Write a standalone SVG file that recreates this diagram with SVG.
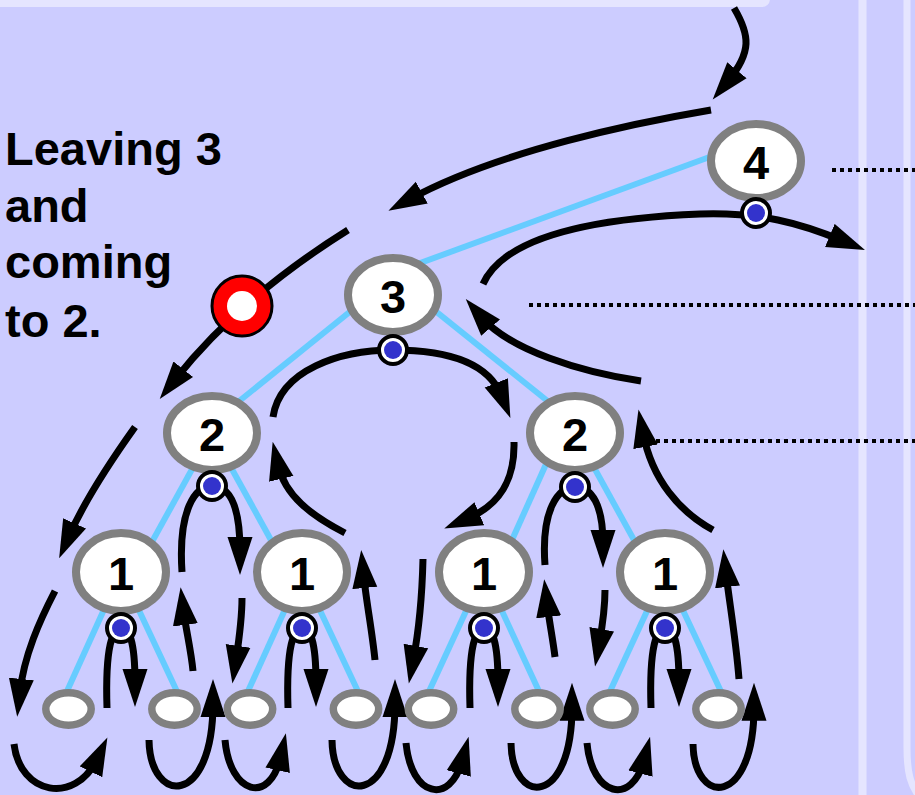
<svg xmlns="http://www.w3.org/2000/svg" width="915" height="795" viewBox="0 0 915 795">
<style>
.edge{stroke:#66CCFF;stroke-width:6;fill:none}
.arr{stroke:#000;stroke-width:7;fill:none;marker-end:url(#ah)}
.node{fill:#fff;stroke:#808080;stroke-width:8}
.leaf{fill:#fff;stroke:#808080;stroke-width:7.5}
.num{font-family:"Liberation Sans",Arial,sans-serif;font-weight:bold;font-size:47px;text-anchor:middle;fill:#000}
.dotO{fill:#fff;stroke:#000;stroke-width:4}
.dotI{fill:#3333CC}
.dotted{stroke:#000;stroke-width:4;stroke-dasharray:4 4;fill:none}
.lbl{font-family:"Liberation Sans",Arial,sans-serif;font-weight:bold;font-size:47px;fill:#000}
</style>
<defs>
<marker id="ah" markerUnits="userSpaceOnUse" markerWidth="40" markerHeight="26" viewBox="0 0 40 26" refX="14" refY="13" orient="auto">
<path d="M0,0.5 L38,13 L0,25.5 Z" fill="#000"/>
</marker>
</defs>
<rect x="0" y="0" width="915" height="795" fill="#CCCCFF"/>
<rect x="-10" y="-10" width="780" height="17" rx="8" fill="#E5E5FF"/>
<rect x="858.5" y="0" width="8" height="795" fill="#E5E5FF"/>
<path d="M907,-10 V748 C907,772 910,786 922,800" stroke="#E5E5FF" stroke-width="7" fill="none"/>

<g id="connectors">
<g id="tree-edges">
<line class="edge" x1="393" y1="273" x2="756" y2="140"/>
<line class="edge" x1="393" y1="277" x2="212" y2="423"/>
<line class="edge" x1="393" y1="277" x2="575" y2="423"/>
<line class="edge" x1="212" y1="433" x2="142" y2="560"/>
<line class="edge" x1="212" y1="433" x2="282" y2="560"/>
<line class="edge" x1="560" y1="433" x2="503" y2="560"/>
<line class="edge" x1="575" y1="433" x2="645" y2="560"/>
<line class="edge" x1="121" y1="572" x2="63" y2="700"/>
<line class="edge" x1="121" y1="572" x2="181" y2="700"/>
<line class="edge" x1="302" y1="572" x2="244" y2="700"/>
<line class="edge" x1="302" y1="572" x2="362" y2="700"/>
<line class="edge" x1="484" y1="572" x2="425" y2="700"/>
<line class="edge" x1="484" y1="572" x2="543" y2="700"/>
<line class="edge" x1="665" y1="572" x2="606" y2="700"/>
<line class="edge" x1="665" y1="572" x2="725" y2="700"/>
</g>
<g id="traversal">
<path class="arr" d="M734,8 C750,35 752,52 728,81"/>
<path class="arr" d="M711,110 C640,122 500,150 409.5,199.3"/>
<path class="arr" d="M348,230 C300,260 230,310 174.6,380.2"/>
<path class="arr" d="M135,427 C115,455 85,500 68.9,536.2"/>
<path class="arr" d="M55,591 C40,620 24,655 19.8,692.9"/>
<path class="arr" d="M14,744 C20,795 75,805 97,759.2"/>
<path class="arr" d="M149,740 C150,805 213,808 213,703"/>
<path class="arr" d="M225,740 C230,795 270,805 280.7,756.6"/>
<path class="arr" d="M332,740 C333,805 395,808 395,703"/>
<path class="arr" d="M406,743 C411,797 450,806 462.4,759.9"/>
<path class="arr" d="M511,743 C512,806 572,808 572,706.7"/>
<path class="arr" d="M587,743 C592,797 632,806 644,760"/>
<path class="arr" d="M693,744 C694,806 754,808 754,706.7"/>
<path class="arr" d="M107,708 C105,645 113,628 121,628 C129,628 135,640 135,683"/>
<path class="arr" d="M288,708 C286,645 294,628 302,628 C310,628 316,640 316,683"/>
<path class="arr" d="M470,708 C468,645 476,628 484,628 C492,628 498,640 498,683"/>
<path class="arr" d="M651,708 C649,645 657,628 665,628 C673,628 679,640 679,683"/>
<path class="arr" d="M193,671 C191,650 186,630 183.6,611"/>
<path class="arr" d="M375,660 C372,630 366,600 363.5,574"/>
<path class="arr" d="M555,657 C553,640 549,620 547,603"/>
<path class="arr" d="M739,679 C736,640 729,600 726,573"/>
<path class="arr" d="M242,598 C242,620 239,640 236,659.7"/>
<path class="arr" d="M605,590 C605,610 602,628 599.3,643"/>
<path class="arr" d="M423,559 C422,600 418,635 413.3,659.8"/>
<path class="arr" d="M182,572 C178,510 195,486 212,486 C229,486 240,505 240,551"/>
<path class="arr" d="M545,565 C541,510 558,487 575,487 C592,487 603,505 603,544"/>
<path class="arr" d="M514,442 C515,480 500,505 466.4,519.1"/>
<path class="arr" d="M273,417 C280,370 340,350 393,350 C445,350 488,362 501.5,395.8"/>
<path class="arr" d="M345,533 C310,515 285,495 278.1,465.2"/>
<path class="arr" d="M713,530 C680,512 652,480 643,433"/>
<path class="arr" d="M641,381 C580,372 510,350 481.5,317.1"/>
<path class="arr" d="M483,284 C505,235 600,218 700,214 C760,212 800,223 842.8,240.8"/>
</g>
</g>

<g id="node-4"><ellipse class="node" cx="756" cy="161" rx="45" ry="37"/><text class="num" x="756" y="179">4</text><circle class="dotO" cx="756" cy="213" r="14"/><circle class="dotI" cx="756" cy="213" r="9"/></g>
<g id="node-3"><ellipse class="node" cx="393" cy="295" rx="45" ry="37"/><text class="num" x="393" y="313">3</text><circle class="dotO" cx="393" cy="350" r="14"/><circle class="dotI" cx="393" cy="350" r="9"/></g>
<g id="node-2a"><ellipse class="node" cx="212" cy="433" rx="45" ry="37"/><text class="num" x="212" y="451">2</text><circle class="dotO" cx="212" cy="486" r="14"/><circle class="dotI" cx="212" cy="486" r="9"/></g>
<g id="node-2b"><ellipse class="node" cx="575" cy="433" rx="45" ry="37"/><text class="num" x="575" y="451">2</text><circle class="dotO" cx="575" cy="487" r="14"/><circle class="dotI" cx="575" cy="487" r="9"/></g>
<g id="node-1a"><ellipse class="node" cx="121" cy="572" rx="45" ry="39"/><text class="num" x="121" y="590">1</text><circle class="dotO" cx="121" cy="628" r="14"/><circle class="dotI" cx="121" cy="628" r="9"/></g>
<g id="node-1b"><ellipse class="node" cx="302" cy="572" rx="45" ry="39"/><text class="num" x="302" y="590">1</text><circle class="dotO" cx="302" cy="628" r="14"/><circle class="dotI" cx="302" cy="628" r="9"/></g>
<g id="node-1c"><ellipse class="node" cx="484" cy="572" rx="45" ry="39"/><text class="num" x="484" y="590">1</text><circle class="dotO" cx="484" cy="628" r="14"/><circle class="dotI" cx="484" cy="628" r="9"/></g>
<g id="node-1d"><ellipse class="node" cx="665" cy="572" rx="45" ry="39"/><text class="num" x="665" y="590">1</text><circle class="dotO" cx="665" cy="628" r="14"/><circle class="dotI" cx="665" cy="628" r="9"/></g>

<g id="leaf-1"><ellipse class="leaf" cx="68.5" cy="709" rx="22.7" ry="16.2"/></g>
<g id="leaf-2"><ellipse class="leaf" cx="174.5" cy="709" rx="22.7" ry="16.2"/></g>
<g id="leaf-3"><ellipse class="leaf" cx="250" cy="709" rx="22.7" ry="16.2"/></g>
<g id="leaf-4"><ellipse class="leaf" cx="356" cy="709" rx="22.7" ry="16.2"/></g>
<g id="leaf-5"><ellipse class="leaf" cx="431" cy="709" rx="22.7" ry="16.2"/></g>
<g id="leaf-6"><ellipse class="leaf" cx="537.5" cy="709" rx="22.7" ry="16.2"/></g>
<g id="leaf-7"><ellipse class="leaf" cx="612.5" cy="709" rx="22.7" ry="16.2"/></g>
<g id="leaf-8"><ellipse class="leaf" cx="718.5" cy="709" rx="22.7" ry="16.2"/></g>

<g id="current-position">
<circle cx="242" cy="306" r="30" fill="#FF0000" stroke="#000" stroke-width="3"/>
<circle cx="242" cy="306" r="15" fill="#fff"/>
</g>

<g id="pointers">
<line class="dotted" x1="832" y1="170" x2="915" y2="170"/>
<line class="dotted" x1="529" y1="305" x2="915" y2="305"/>
<line class="dotted" x1="656" y1="441" x2="915" y2="441"/>
</g>

<text class="lbl" x="5" y="165">Leaving 3</text>
<text class="lbl" x="5" y="222">and</text>
<text class="lbl" x="5" y="278">coming</text>
<text class="lbl" x="5" y="337">to 2.</text>
</svg>
